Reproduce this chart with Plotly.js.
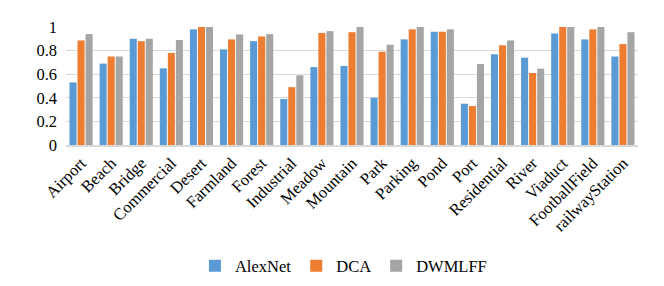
<!DOCTYPE html>
<html>
<head>
<meta charset="utf-8">
<script src="https://cdn.plot.ly/plotly-3.0.1.min.js"></script>
<style>html,body{margin:0;padding:0;background:#fff;}#chart{width:664px;height:286px;}</style>
</head>
<body>
<div id="chart"></div>
<script>
var categories = ["Airport","Beach","Bridge","Commercial","Desert","Farmland","Forest","Industrial","Meadow","Mountain","Park","Parking","Pond","Port","Residential","River","Viaduct","FootballField","railwayStation"];
var alexnet = [0.53,0.69,0.90,0.65,0.98,0.81,0.88,0.39,0.66,0.67,0.40,0.895,0.96,0.35,0.77,0.74,0.945,0.895,0.75];
var dca     = [0.886,0.75,0.88,0.78,1.00,0.895,0.92,0.49,0.95,0.956,0.79,0.98,0.96,0.33,0.846,0.61,1.00,0.98,0.855];
var dwmlff  = [0.94,0.75,0.90,0.89,1.00,0.937,0.94,0.59,0.965,1.00,0.85,1.00,0.98,0.686,0.886,0.647,1.00,1.00,0.956];
var yTicks = [0,0.2,0.4,0.6,0.8,1];
var yTickText = ["0","0.2","0.4","0.6","0.8","1"];

var font = {family: "Liberation Serif", size: 16.5, color: "#000"};
var data = [
  {type:"bar", name:"AlexNet", x:categories, y:alexnet, marker:{color:"#5b9bd5"}},
  {type:"bar", name:"DCA", x:categories, y:dca, marker:{color:"#ed7d31"}},
  {type:"bar", name:"DWMLFF", x:categories, y:dwmlff, marker:{color:"#a5a5a5"}}
];
var layout = {
  width:664, height:286,
  margin:{l:66, r:26, t:27, b:141},
  paper_bgcolor:"#fff", plot_bgcolor:"#fff",
  font:font,
  barmode:"group", bargap:0.2, bargroupgap:0.12,
  showlegend:true,
  legend:{orientation:"h", x:0.485, xanchor:"center", xref:"paper", yref:"container", y:0.07, yanchor:"middle", font:font, traceorder:"normal", itemwidth:30, tracegroupgap:0},
  xaxis:{tickangle:-45, tickfont:font, showline:true, linecolor:"#d9d9d9", linewidth:2, ticks:"", showgrid:false, automargin:false, fixedrange:true},
  yaxis:{range:[0,1], tickvals:yTicks, ticktext:yTickText, tickfont:font, showgrid:true, gridcolor:"#d9d9d9", gridwidth:1, zeroline:false, showline:false, ticks:"", automargin:false, ticklabelstandoff:8}
};
Plotly.newPlot("chart", data, layout, {displayModeBar:false, staticPlot:true});
</script>
</body>
</html>
